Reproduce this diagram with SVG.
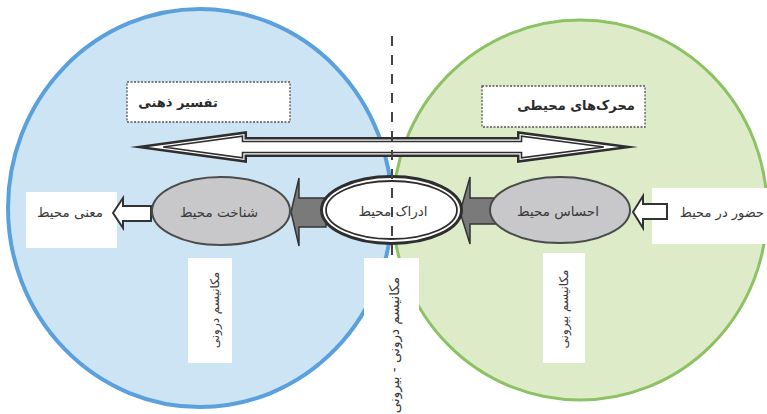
<svg xmlns="http://www.w3.org/2000/svg" width="767" height="414" viewBox="0 0 767 414">
<style>
.t{font-family:"DejaVu Sans",sans-serif;fill:#3a3a3a;font-size:13.5px;text-anchor:middle}
.b{font-weight:bold;font-size:13px;fill:#2a2a2a}
.v{font-size:12px}
.wbox{fill:#ffffff}
.lbl{fill:#ffffff;stroke:#555;stroke-width:1.3;stroke-dasharray:2 1.5}
.grey{fill:#c8c8ca;stroke:#4a4a4a;stroke-width:2}
.darr{fill:#7a7a7a;stroke:#333;stroke-width:1.5;stroke-linejoin:miter}
.harr{fill:#ffffff;stroke:#333;stroke-width:2;stroke-linejoin:miter}
.dk{fill:#2e2e2e}
.wt{fill:#ffffff}
</style>
<rect x="0" y="0" width="767" height="414" fill="#ffffff"/>
<g id="circles">
<ellipse cx="580" cy="210" rx="187" ry="190" fill="#deebc9" stroke="#8cc264" stroke-width="3"/>
<ellipse cx="200" cy="208" rx="192" ry="199" fill="#cde4f4" stroke="#5aa0dc" stroke-width="4"/>
</g>
<g id="label-tafsir">
<rect class="lbl" x="127" y="82" width="163" height="40"/>
<text class="t b" x="178" y="107">تفسیر ذهنی</text>
</g>
<g id="label-moharek">
<rect class="lbl" x="482" y="86" width="163" height="41"/>
<text class="t b" x="576" y="110">محرک‌های محیطی</text>
</g>
<g id="node-mani">
<rect class="wbox" x="26" y="192" width="91" height="56"/>
<text class="t" x="70" y="217">معنی محیط</text>
</g>
<g id="node-hozur">
<rect class="wbox" x="652" y="188" width="115" height="56"/>
<text class="t" x="722" y="217" style="font-size:13px">حضور در محیط</text>
</g>
<g id="connectors">
<polygon class="dk" points="130,147 247,131 247,137 517,137 517,131 638,147 517,163 517,157 247,157 247,163"/>
<polygon class="wt" points="148.4,147 244.5,133.9 244.5,139.5 519.5,139.5 519.5,133.9 619,147 519.5,160.1 519.5,154.5 244.5,154.5 244.5,160.1"/>
<polygon class="wt" stroke="#2e2e2e" stroke-width="1.6" points="163.2,147 242.5,136.1 242.5,141.5 521.5,141.5 521.5,136.1 603.8,147 521.5,157.9 521.5,152.5 242.5,152.5 242.5,157.9"/>
<polygon class="harr" points="113,213 123,198 123,206 151,206 151,221 123,221 123,228"/>
<polygon class="harr" points="633,212 643,196 643,204 667,204 667,219 643,219 643,228"/>
<polygon class="darr" points="291,212 299,178 299,198 326,198 326,227 299,227 299,246"/>
<polygon class="darr" points="460,212 470,177 470,198 496,198 496,224 470,224 470,244"/>
</g>
<g id="node-shenakht">
<ellipse class="grey" cx="221" cy="211" rx="69" ry="34"/>
<text class="t" x="219" y="217">شناخت محیط</text>
</g>
<g id="node-edrak">
<ellipse cx="391.5" cy="210" rx="70" ry="33.5" fill="#ffffff" stroke="#2e2e2e" stroke-width="3"/>
<ellipse cx="391.5" cy="210" rx="65.5" ry="29" fill="none" stroke="#2e2e2e" stroke-width="1.8"/>
<text class="t" x="393" y="216">ادراک محیط</text>
</g>
<g id="node-ehsas">
<ellipse class="grey" cx="560" cy="210" rx="70" ry="33"/>
<text class="t" x="558" y="216">احساس محیط</text>
</g>
<g id="label-daruni">
<rect class="wbox" x="188" y="258" width="44" height="105"/>
<text class="t v" transform="translate(219,310) rotate(-90)" x="0" y="0">مکانیسم درونی</text>
</g>
<g id="label-biruni">
<rect class="wbox" x="543" y="253" width="42" height="110"/>
<text class="t v" transform="translate(568,309) rotate(-90)" x="0" y="0">مکانیسم بیرونی</text>
</g>
<g id="label-mixed">
<rect class="wbox" x="364" y="258" width="55" height="156"/>
<text class="t" transform="translate(399,277) rotate(-90)" x="0" y="0" direction="rtl" style="text-anchor:start;font-size:13.5px">مکانیسم درونی - بیرونی</text>
</g>
<line x1="392" y1="36" x2="392" y2="262" stroke="#444" stroke-width="2" stroke-dasharray="10 9"/>
</svg>
